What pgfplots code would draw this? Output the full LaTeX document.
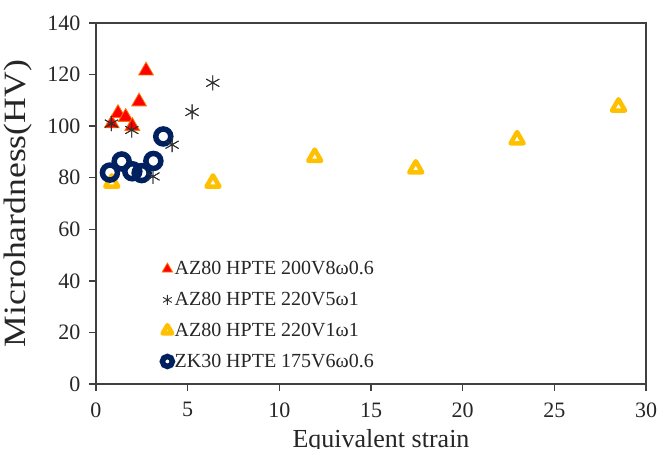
\documentclass[border=0pt]{standalone}
\usepackage{fontspec}
\setmainfont{Liberation Serif}
\usepackage{pgfplots}
\pgfplotsset{compat=1.18}
\definecolor{axgray}{HTML}{404040}
\definecolor{myred}{HTML}{FF0000}
\definecolor{myorange}{HTML}{FF7000}
\definecolor{myyellow}{HTML}{FFC000}
\definecolor{mynavy}{HTML}{002060}
\definecolor{mystar}{HTML}{303030}
\begin{document}
\begin{tikzpicture}
\begin{axis}[
  scale only axis,
  width=550pt, height=361pt,
  xmin=0, xmax=30, ymin=0, ymax=140,
  xtick={0,5,...,30}, ytick={0,20,...,140},
  xtick pos=left, ytick pos=left,
  tick align=outside, major tick length=7pt,
  axis line style={axgray, line width=1.3pt},
  tick style={axgray, line width=1.3pt},
  /pgf/number format/assume math mode=true,
  ticklabel style={font=\fontsize{22}{26}\selectfont, text=black!85},
  xticklabel style={yshift=-8pt},
  yticklabel style={xshift=-5pt},
  xlabel={Equivalent strain},
  ylabel={\scalebox{1.15}[1]{Microhardness(HV)}},
  label style={text=black!85},
  xlabel style={font=\fontsize{26}{30}\selectfont, at={(axis description cs:0.5,0)}, anchor=north, yshift=-42pt, xshift=10pt},
  ylabel style={font=\fontsize{31}{36}\selectfont, at={(axis description cs:0,0.5)}, anchor=south, yshift=60pt},
  legend style={at={(0.12,0.345)}, anchor=north west, draw=none, fill=none,
    font=\fontsize{20}{24}\selectfont, text=black!85,
    row sep=12pt, inner sep=0pt},
  legend cell align=left,
]
\addplot[only marks, mark=triangle*, mark size=8.5pt,
  mark options={fill=myred, draw=myorange, line width=0.8pt},
  legend image code/.code={\draw[fill=myred, draw=myorange, line width=0.6pt] plot[mark=triangle*, mark size=6pt] coordinates {(0.25cm,0cm)};}]
  coordinates {(0.86,101) (1.2,105) (1.62,103.5) (1.98,100) (2.35,109.5) (2.73,121.5)};
\addlegendentry{AZ80 HPTE 200V8ω0.6}
\addplot[only marks, mark=asterisk, mark size=7.5pt, color=mystar,
  mark options={line width=0.9pt},
  legend image code/.code={\draw[mystar, line width=0.7pt] plot[mark=asterisk, mark size=5pt] coordinates {(0.25cm,0cm)};}]
  coordinates {(0.84,101) (1.95,98.5) (3.11,80.5) (4.15,92.8) (5.24,105.5) (6.37,116.8)};
\addlegendentry{AZ80 HPTE 220V5ω1}
\addplot[only marks, mark=triangle, mark size=7.5pt, color=myyellow,
  mark options={line width=4.5pt, line join=round},
  legend image code/.code={\draw[myyellow, line width=3.5pt, line join=round] plot[mark=triangle, mark size=5.5pt] coordinates {(0.25cm,0cm)};}]
  coordinates {(0.86,78) (6.38,78) (11.93,88) (17.44,83.5) (22.97,94.8) (28.5,107.5)};
\addlegendentry{AZ80 HPTE 220V1ω1}
\addplot[only marks, mark=o, mark size=7.5pt, color=mynavy,
  mark options={line width=5.5pt, fill=white},
  legend image code/.code={\draw[mynavy, line width=4pt] plot[mark=o, mark size=5pt] coordinates {(0.25cm,0cm)};}]
  coordinates {(0.76,82) (1.4,86.3) (1.98,82.5) (2.49,81.8) (3.13,86.5) (3.67,96)};
\addlegendentry{ZK30 HPTE 175V6ω0.6}
\addplot[only marks, mark=asterisk, mark size=7.5pt, color=mystar,
  mark options={line width=0.9pt}, forget plot]
  coordinates {(0.84,101) (1.95,98.5) (3.11,80.5) (4.15,92.8) (5.24,105.5) (6.37,116.8)};
\end{axis}
\pgfresetboundingbox
\useasboundingbox (-96pt,-64pt) rectangle (564pt,384pt);
\end{tikzpicture}
\end{document}
